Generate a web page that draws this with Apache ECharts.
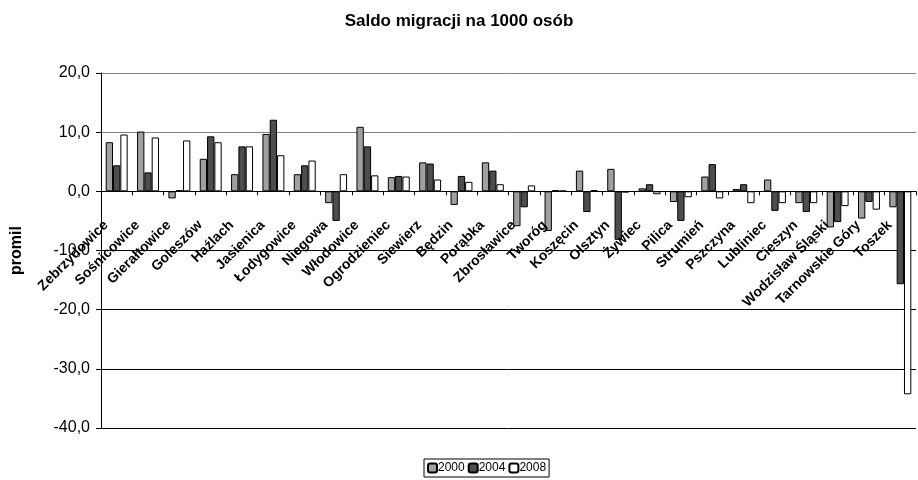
<!DOCTYPE html>
<html>
<head>
<meta charset="utf-8">
<script src="https://cdn.jsdelivr.net/npm/echarts@6/dist/echarts.min.js"></script>
<style>
  html, body { margin: 0; padding: 0; background: #fff; }
  #main { width: 918px; height: 480px; }
</style>
</head>
<body>
<div id="main"></div>
<script>
var gminy = ['Zebrzydowice', 'Sośnicowice', 'Gierałtowice', 'Goleszów', 'Haźlach', 'Jasienica',
    'Łodygowice', 'Niegowa', 'Włodowice', 'Ogrodzieniec', 'Siewierz', 'Będzin', 'Porąbka',
    'Zbrosławice', 'Tworóg', 'Koszęcin', 'Olsztyn', 'Żywiec', 'Pilica', 'Strumień', 'Pszczyna',
    'Lubliniec', 'Cieszyn', 'Wodzisław Śląski', 'Tarnowskie Góry', 'Toszek'];
var lata = ['2000', '2004', '2008'];
var saldo2000 = [8.3, 10.1, -1.2, 5.5, 2.9, 9.7, 2.9, -2.0, 10.9, 2.4, 4.9, -2.3, 4.9,
    -5.9, -6.7, 3.5, 3.8, 0.5, -1.8, 2.5, 0.4, 2.0, -2.0, -6.1, -4.6, -2.7];
var saldo2004 = [4.4, 3.2, 0.2, 9.3, 7.6, 12.1, 4.4, -5.0, 7.6, 2.6, 4.7, 2.6, 3.5,
    -2.7, 0.2, -3.5, -8.2, 1.2, -5.0, 4.6, 1.2, -3.3, -3.5, -5.2, -1.8, -15.7];
var saldo2008 = [9.6, 9.1, 8.6, 8.3, 7.6, 6.1, 5.2, 2.9, 2.7, 2.5, 2.0, 1.6, 1.2,
    1.0, 0.1, 0.2, -0.2, -0.5, -1.0, -1.2, -2.0, -2.0, -2.0, -2.5, -3.1, -34.3];
var yTicks = [-40, -30, -20, -10, 0, 10, 20];

var font = 'Arial, "Liberation Sans", sans-serif';
var kolory = ['#a0a0a0', '#4d4d4d', '#ffffff'];

var gridTop = 73, gridBottom = 52, H = 480;
var yMin = yTicks[0], yMax = yTicks[yTicks.length - 1];
// os X w Excelu lezy na zerze razem z etykietami
var zeroOffset = -(H - gridTop - gridBottom) * (0 - yMin) / (yMax - yMin);

var chart = echarts.init(document.getElementById('main'));

function seria(name, data, i) {
    return {
        name: name,
        type: 'bar',
        data: data,
        barGap: '0%',
        barCategoryGap: '30%',
        itemStyle: { color: kolory[i], borderColor: '#000', borderWidth: 1 }
    };
}

option = {
    animation: false,
    textStyle: { fontFamily: font, color: '#000' },
    title: {
        text: 'Saldo migracji na 1000 osób',
        left: 'center',
        top: 8,
        textStyle: { fontFamily: font, fontSize: 17, fontWeight: 'bold', color: '#000' }
    },
    legend: {
        data: lata,
        left: 424,
        bottom: 3,
        padding: [3, 3],
        borderColor: '#000',
        borderWidth: 1,
        itemWidth: 9,
        itemHeight: 9,
        itemGap: 3,
        textStyle: { fontFamily: font, fontSize: 12, color: '#000', padding: [0, 0, 0, -4] }
    },
    grid: { left: 101, right: 2, top: gridTop, bottom: gridBottom, outerBoundsMode: 'none', containLabel: false },
    xAxis: {
        type: 'category',
        data: gminy,
        offset: zeroOffset,
        z: 5,
        axisLine: { onZero: false, lineStyle: { color: '#000', width: 1 } },
        axisTick: { show: true, length: 4, lineStyle: { color: '#000' } },
        axisLabel: {
            interval: 0,
            rotate: 45,
            margin: 21,
            padding: [0, 15, 0, 0],
            fontFamily: font,
            fontSize: 14,
            fontWeight: 'bold',
            color: '#000'
        },
        splitLine: { show: false }
    },
    yAxis: {
        type: 'value',
        min: yMin,
        max: yMax,
        interval: 10,
        name: 'promil',
        nameLocation: 'middle',
        nameGap: 76,
        nameTextStyle: { fontFamily: font, fontSize: 16, fontWeight: 'bold', color: '#000' },
        axisLine: { show: true, lineStyle: { color: '#000', width: 1 } },
        axisTick: { show: true, length: 5, lineStyle: { color: '#000' } },
        axisLabel: {
            margin: 11,
            fontFamily: font,
            fontSize: 16,
            color: '#000',
            formatter: function (v) { return v.toFixed(1).replace('.', ','); }
        },
        splitLine: {
            show: true,
            lineStyle: { color: ['#000', '#000', '#000', '#000', '#000', '#808080', '#808080'], width: 1 }
        }
    },
    series: [
        seria(lata[0], saldo2000, 0),
        seria(lata[1], saldo2004, 1),
        seria(lata[2], saldo2008, 2)
    ]
};

chart.setOption(option);
</script>
</body>
</html>
